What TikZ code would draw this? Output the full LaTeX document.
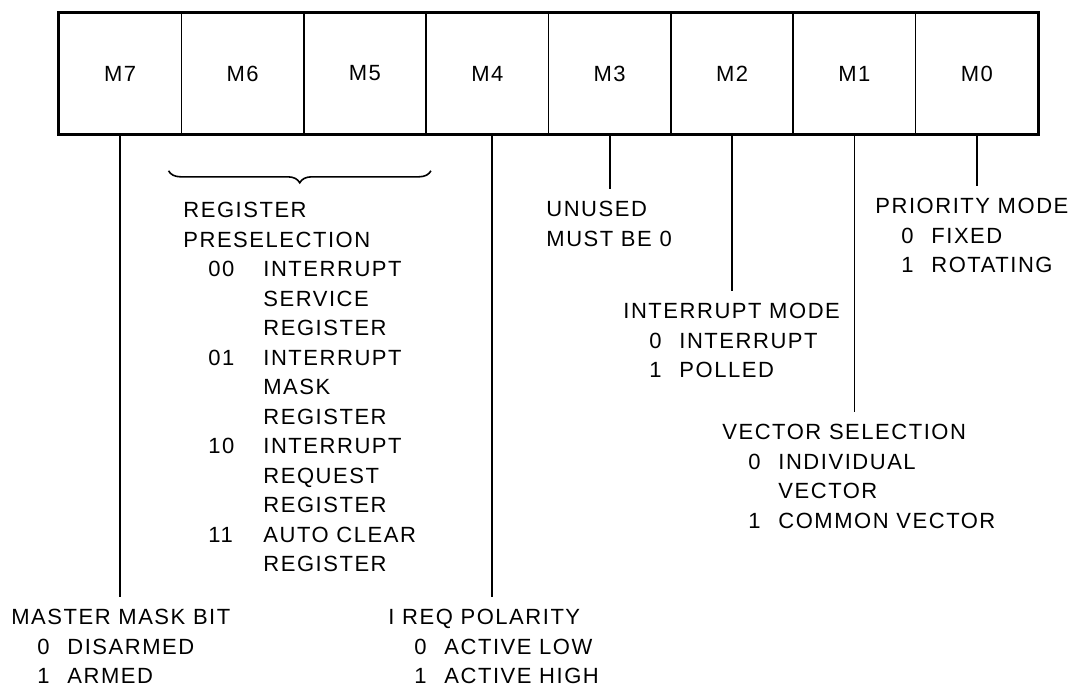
\documentclass[tikz,border=0pt]{standalone}
\usepackage{fontspec}
\setmainfont{Liberation Sans}[LetterSpace=7]
\usetikzlibrary{decorations.pathreplacing}

\newcommand{\bitopt}[2]{\hspace*{13pt}\makebox[15pt][l]{#1}#2}
\newcommand{\bitmore}[1]{\hspace*{28pt}#1}
\newcommand{\regopt}[2]{\hspace*{12.5pt}\makebox[27.5pt][l]{#1}#2}
\newcommand{\regmore}[1]{\hspace*{40pt}#1}

\begin{document}
\begin{tikzpicture}[x=0.5pt, y=-0.5pt,
    cell/.style={draw, line width=0.8pt, minimum width=61.19pt, minimum height=60.5pt, inner sep=0pt, font=\fontsize{11}{12}\selectfont},
    lead/.style={line width=0.9pt, shorten >=6pt},
    note/.style={anchor=north west, inner sep=0pt, align=left, font=\fontsize{11}{14.75}\selectfont}]
    \useasboundingbox (0,0) rectangle (1071,692);
    % the mode register, M7 down to M0
    \foreach \b [count=\i from 0] in {7,...,0}
        \node[cell] (m\b) at ({59+122.375*(\i+0.5)},73.5) {M\b};
    \draw[line width=1.5pt] (m7.north west) rectangle (m0.south east);
    \draw[line width=0.8pt, decorate, decoration={brace, mirror, amplitude=6pt}]
        ([xshift=-6pt, yshift=-18pt]m6.south west) -- ([xshift=2pt, yshift=-18pt]m5.south east);

    % field descriptions
    \node[note] (presel) at (183,202) {REGISTER\\PRESELECTION\\
        \regopt{00}{INTERRUPT}\\\regmore{SERVICE}\\\regmore{REGISTER}\\
        \regopt{01}{INTERRUPT}\\\regmore{MASK}\\\regmore{REGISTER}\\
        \regopt{10}{INTERRUPT}\\\regmore{REQUEST}\\\regmore{REGISTER}\\
        \regopt{11}{AUTO CLEAR}\\\regmore{REGISTER}};
    \node[note] (unused) at (546,201) {UNUSED\\MUST BE 0};
    \node[note] (intmode) at (623,303) {INTERRUPT MODE\\\bitopt{0}{INTERRUPT}\\\bitopt{1}{POLLED}};
    \node[note] (prio) at (875,198) {PRIORITY MODE\\\bitopt{0}{FIXED}\\\bitopt{1}{ROTATING}};
    \node[note] (vecsel) at (722,424) {VECTOR SELECTION\\\bitopt{0}{INDIVIDUAL}\\\bitmore{VECTOR}\\\bitopt{1}{COMMON VECTOR}};
    \node[note] (master) at (11,609) {MASTER MASK BIT\\\bitopt{0}{DISARMED}\\\bitopt{1}{ARMED}};
    \node[note] (ireq) at (388,609) {I REQ POLARITY\\\bitopt{0}{ACTIVE LOW}\\\bitopt{1}{ACTIVE HIGH}};

    % leaders
    \draw[lead] (m7.south) -- (m7.south |- master.north);
    \draw[lead] ([xshift=2.5pt]m4.south) -- ([xshift=2.5pt]m4.south |- ireq.north);
    \draw[lead] (m3.south) -- (m3.south |- unused.north);
    \draw[lead] (m2.south) -- (m2.south |- intmode.north);
    \draw[lead] (m1.south) -- (m1.south |- vecsel.north);
    \draw[lead] (m0.south) -- (m0.south |- prio.north);
\end{tikzpicture}
\end{document}
